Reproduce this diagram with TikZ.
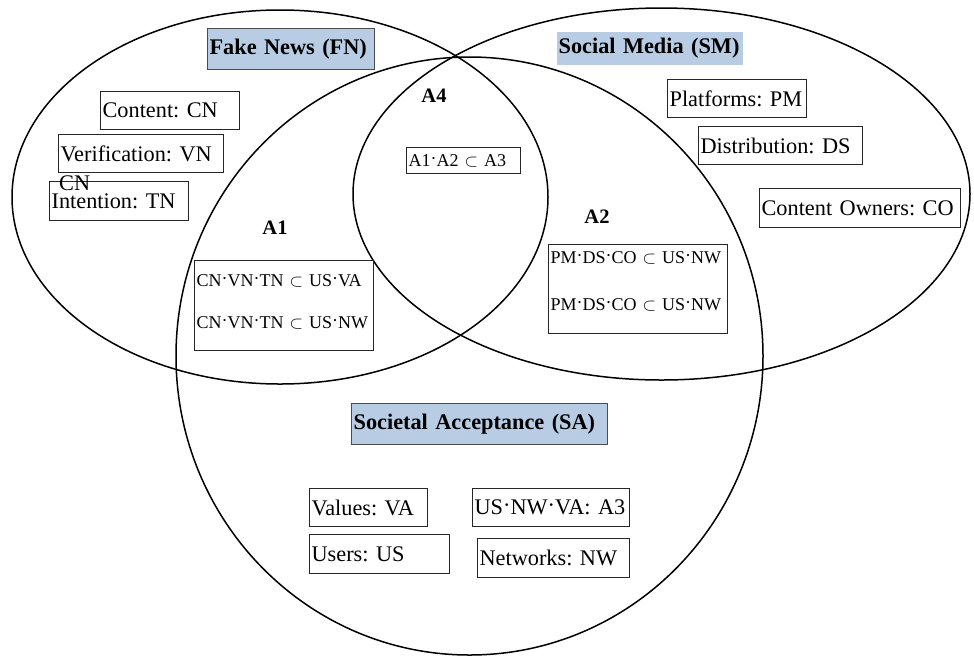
\documentclass[tikz,border=0pt]{standalone}
\usepackage{fontspec}
\setmainfont{Liberation Serif}
\usetikzlibrary{positioning}
\definecolor{titleblue}{HTML}{B8CCE4}
\newcommand{\mdt}{\raisebox{0.12em}{·}}
\frenchspacing

\begin{document}
\begin{tikzpicture}[
    x=1pt, y=-1pt,
    venn/.style={line width=1.5pt},
    block/.style={rectangle, draw=black!85, line width=1.2pt, anchor=north west, inner xsep=2pt, inner ysep=0pt, align=left, font=\fontsize{22.3}{27}\selectfont},
    heading/.style={block, fill=titleblue, draw=black!70, font=\fontsize{22.3}{27}\selectfont\bfseries},
    formula/.style={block, font=\fontsize{18}{22}\selectfont},
    region/.style={font=\fontsize{20.5}{24}\selectfont\bfseries},
]
    \useasboundingbox (0,0) rectangle (974,657);

    \draw[venn] (280,197) ellipse [x radius=268pt, y radius=187pt];
    \draw[venn] (661.5,194) ellipse [x radius=308.5pt, y radius=186pt];
    \draw[venn] (469.5,356) ellipse [x radius=293.5pt, y radius=299pt];

    \node[heading, text width=163pt, minimum height=41pt] (FN) at (207,28) {Fake News (FN)};
    \node[heading, draw=none, text width=182pt, minimum height=33pt] (SM) at (556,31) {Social Media (SM)};
    \node[heading, text width=252pt, minimum height=41pt] (SA) at (351,403) {Societal Acceptance (SA)};

    \node[block, text width=135pt, minimum height=38pt] (CN) at (100,91) {Content: CN};
    \node[block, text width=161pt, minimum height=38pt] (VN) at (58,134) {Verification: VN};
    \node[block, text width=135pt, minimum height=39pt] (TN) at (49,181) {Intention: TN};
    \node[font=\fontsize{22.3}{27}\selectfont, anchor=base west, inner sep=0pt] (CNx) at (59,190) {CN};

    \node[block, text width=135pt, minimum height=38pt] (PM) at (667,79) {Platforms: PM};
    \node[block, text width=160pt, minimum height=38pt] (DS) at (698,126) {Distribution: DS};
    \node[block, text width=197pt, minimum height=39pt] (CO) at (759,188) {Content Owners: CO};

    \node[block, text width=114pt, minimum height=38pt] (VA) at (309,488) {Values: VA};
    \node[block, text width=136pt, minimum height=39pt, below right=7pt and 0pt of VA.south west] (US) {Users: US};
    \node[block, text width=153pt, minimum height=38pt] (UNV) at (472,488) {US\mdt NW\mdt VA: A3};
    \node[block, text width=148pt, minimum height=39pt, below right=11pt and 5pt of UNV.south west] (NW) {Networks: NW};

    \node[region] (LA1) at (275,228) {A1};
    \node[region] (LA4) at (434,96) {A4};
    \node[region] (LA2) at (597,217) {A2};

    \node[formula, text width=110pt, minimum height=26pt] (F4) at (406,147) {A1\mdt A2 $\subset$ A3};
    \node[formula, text width=175pt, minimum height=90pt] (F1) at (194,260) {CN\mdt VN\mdt TN $\subset$ US\mdt VA\\[20pt]CN\mdt VN\mdt TN $\subset$ US\mdt NW\rule[-8pt]{0pt}{0pt}};
    \node[formula, text width=175pt, minimum height=89pt] (F2) at (548,244) {PM\mdt DS\mdt CO $\subset$ US\mdt NW\\[25pt]PM\mdt DS\mdt CO $\subset$ US\mdt NW\rule[-16pt]{0pt}{0pt}};
\end{tikzpicture}
\end{document}
